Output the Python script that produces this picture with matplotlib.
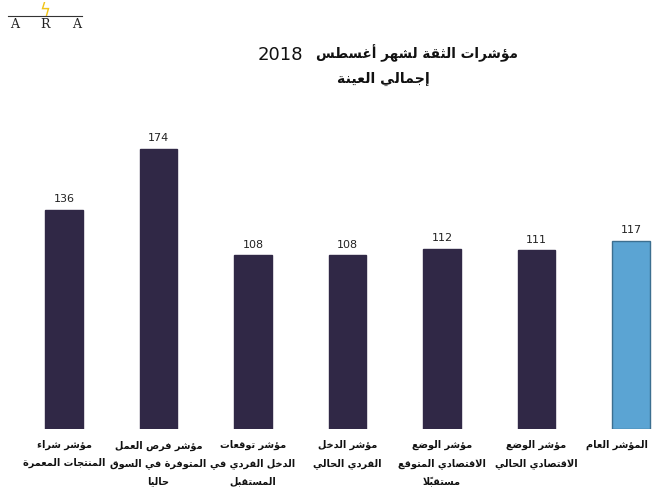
import matplotlib
matplotlib.use("Agg")
import matplotlib.pyplot as plt
from matplotlib.lines import Line2D
from matplotlib.transforms import blended_transform_factory, ScaledTranslation
from matplotlib.pyplot import rcParams

configs = {
    "font.family": ["DejaVu Sans"],
    "font.size": 10,
    "axes.unicode_minus": False,
}
rcParams.update(configs)

# data, left to right as drawn in the reference
categories = [
    ["مؤشر شراء", "المنتجات المعمرة"],
    ["مؤشر فرص العمل", "المتوفرة في السوق", "حاليا"],
    ["مؤشر توقعات", "الدخل الفردي في", "المستقبل"],
    ["مؤشر الدخل", "الفردي الحالي"],
    ["مؤشر الوضع", "الاقتصادي المتوقع", "مستقبلاً"],
    ["مؤشر الوضع", "الاقتصادي الحالي"],
    ["المؤشر العام"],
]
values = [136, 174, 108, 108, 112, 111, 117]
title_text = "مؤشرات الثقة لشهر أغسطس"
title_year = "2018"
subtitle_text = "إجمالي العينة"

DARK = "#302846"
BLUE = "#5ba4d3"
BLUE_EDGE = "#3c6f90"

# --- minimal arabic shaping (matplotlib has no shaping / bidi) ---
TWO_FORMS = {"آ": 0xFE81, "أ": 0xFE83, "ؤ": 0xFE85, "إ": 0xFE87, "ا": 0xFE8D,
             "ة": 0xFE93, "د": 0xFEA9, "ذ": 0xFEAB, "ر": 0xFEAD, "ز": 0xFEAF,
             "و": 0xFEED, "ى": 0xFEEF}
FOUR_FORMS = {"ئ": 0xFE89, "ب": 0xFE8F, "ت": 0xFE95, "ث": 0xFE99, "ج": 0xFE9D,
              "ح": 0xFEA1, "خ": 0xFEA5, "س": 0xFEB1, "ش": 0xFEB5, "ص": 0xFEB9,
              "ض": 0xFEBD, "ط": 0xFEC1, "ظ": 0xFEC5, "ع": 0xFEC9, "غ": 0xFECD,
              "ف": 0xFED1, "ق": 0xFED5, "ك": 0xFED9, "ل": 0xFEDD, "م": 0xFEE1,
              "ن": 0xFEE5, "ه": 0xFEE9, "ي": 0xFEF1}
LAM_ALEF = {"آ": 0xFEF5, "أ": 0xFEF7, "إ": 0xFEF9, "ا": 0xFEFB}
MARKS = set(chr(c) for c in range(0x064B, 0x0653))


def _kind(unit):
    base = unit[0]
    if base in FOUR_FORMS:
        return "dual"
    if base in TWO_FORMS or base.startswith("LA"):
        return "right"
    return "none"


def shape(text):
    units = []
    i = 0
    while i < len(text):
        c = text[i]
        if c == "ل" and i + 1 < len(text) and text[i + 1] in LAM_ALEF:
            units.append(["LA" + text[i + 1], ""])
            i += 2
            continue
        if c in MARKS and units:
            units[-1][1] += c
        else:
            units.append([c, ""])
        i += 1

    out = []
    for k, unit in enumerate(units):
        base = unit[0]
        prev_j = k > 0 and _kind(units[k - 1]) == "dual"
        next_j = (_kind(unit) == "dual" and k + 1 < len(units)
                  and _kind(units[k + 1]) != "none")
        if base.startswith("LA"):
            glyph = chr(LAM_ALEF[base[2]] + (1 if prev_j else 0))
        elif base in TWO_FORMS:
            glyph = chr(TWO_FORMS[base] + (1 if prev_j else 0))
        elif base in FOUR_FORMS:
            if prev_j and next_j:
                off = 3
            elif next_j:
                off = 2
            elif prev_j:
                off = 1
            else:
                off = 0
            glyph = chr(FOUR_FORMS[base] + off)
        elif base == "ء":
            glyph = chr(0xFE80)
        else:
            glyph = base
        out.append(glyph + unit[1])
    # visual order: right to left
    return "".join(reversed(out))


x = list(range(len(values)))
colors = [DARK] * (len(values) - 1) + [BLUE]
edges = [DARK] * (len(values) - 1) + [BLUE_EDGE]

fig = plt.figure(figsize=(6.6, 5.0), dpi=100)
ax = fig.add_axes([0, 0.142, 1, 0.644])
bars = ax.bar(x, values, width=0.40, color=colors, edgecolor=edges, linewidth=1.0)
ax.bar_label(bars, labels=[str(v) for v in values], padding=4, fontsize=8, color="#222222")

ax.set_ylim(0, 200)
ax.set_xlim(-64 / 94.5, (660 - 64) / 94.5)
ax.set_xticks([])
ax.set_yticks([])
for s in ax.spines.values():
    s.set_visible(False)

# category labels under the bars (last one nudged left so it stays on the canvas)
trans = blended_transform_factory(ax.transData, ax.transAxes)
for i, lab in enumerate(categories):
    t = trans
    if i == len(categories) - 1:
        t = trans + ScaledTranslation(-0.14, 0, fig.dpi_scale_trans)
    ax.text(i, -0.035, "\n".join(shape(line) for line in lab), transform=t,
            ha="center", va="top", fontsize=7.0, fontweight="bold",
            linespacing=1.95, color="#111111", clip_on=False)

# title
fig.text(518 / 660, 1 - 53 / 500, shape(title_text), ha="right", va="center",
         fontsize=9.8, fontweight="bold", color="#111111")
fig.text(258 / 660, 1 - 55 / 500, title_year, ha="left", va="center",
         fontsize=13, color="#111111")
fig.text(430 / 660, 1 - 79 / 500, shape(subtitle_text), ha="right", va="center",
         fontsize=10.2, fontweight="bold", color="#111111")

# ARA logo
fig.add_artist(Line2D([8 / 660, 82 / 660], [1 - 16 / 500, 1 - 16 / 500],
                      color="#333333", linewidth=0.8))
fig.text(45 / 660, 1 - 11 / 500, "ϟ", ha="center", va="center",
         fontsize=12, color="#f0c419")
for lx, letter in zip([15, 45, 77], ["A", "R", "A"]):
    fig.text(lx / 660, 1 - 25 / 500, letter, ha="center", va="center",
             fontsize=9, family="DejaVu Serif", color="#222222")

fig.savefig("out.png", dpi=100)
